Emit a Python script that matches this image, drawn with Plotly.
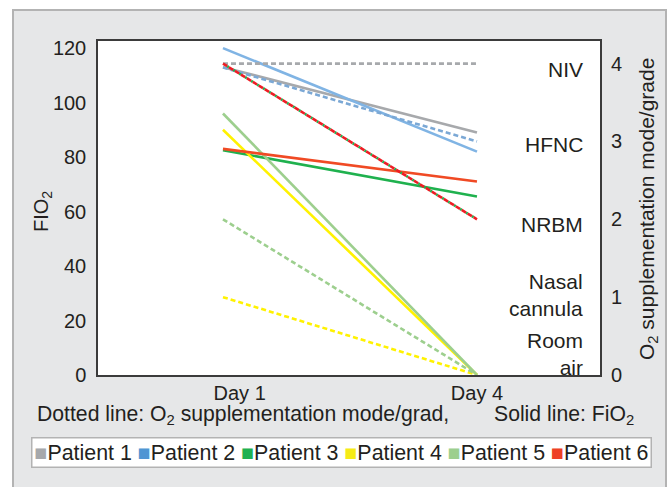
import plotly.graph_objects as go

# ---------------- data ----------------
days = [1, 4]
day_labels = ["\u00a0\u00a0\u00a0\u00a0\u00a0\u00a0Day 1", "Day 4"]
patients = ["Patient 1", "Patient 2", "Patient 3", "Patient 4", "Patient 5", "Patient 6"]

# Solid lines: FiO2 (left axis)
fio2_p1 = [113, 89]
fio2_p2 = [120, 82]
fio2_p3 = [82.5, 65.5]
fio2_p4 = [90, 0]
fio2_p5 = [96, 0]
fio2_p6 = [83, 71]

# Dotted lines: O2 supplementation mode/grade (right axis)
o2_p1 = [4, 4]
o2_p2 = [3.95, 3]
o2_p3 = [4, 2]
o2_p4 = [1, 0]
o2_p5 = [2, 0]
o2_p6 = [4, 2]

fio2_ticks = [0, 20, 40, 60, 80, 100, 120]
o2_ticks = [0, 1, 2, 3, 4]
mode_labels = ["NIV", "HFNC", "NRBM", "Nasal<br>cannula", "Room<br>air"]
mode_label_y = [0.916, 0.689, 0.452, 0.240, 0.062]

# ---------------- styles ----------------
solid_colors = ["#a7a9ac", "#80b4e4", "#1fb14e", "#fff200", "#9dcf8e", "#f04a24"]
dot_colors = ["#a7a9ac", "#7ba8d5", "#1fb14e", "#fff200", "#9dcf8e", "#ee1d24"]
legend_colors = ["#a6a8ab", "#4f96d3", "#1fb150", "#f6eb16", "#9ccf8f", "#ee4124"]
txt = "#231f20"
FONT = "Liberation Sans, Arial, sans-serif"

fio2 = [fio2_p1, fio2_p2, fio2_p3, fio2_p4, fio2_p5, fio2_p6]
o2 = [o2_p1, o2_p2, o2_p3, o2_p4, o2_p5, o2_p6]
dashes = ["5px,3px", "5px,3px", "0px,5px,2px,0px", "5px,3px", "5px,3px", "5px,2px"]

fig = go.Figure()

# dotted lines first (right axis)
for i in range(6):
    fig.add_trace(go.Scatter(
        x=days, y=o2[i], mode="lines", yaxis="y2", name=patients[i],
        line=dict(color=dot_colors[i], width=2.6, dash=dashes[i]),
        showlegend=False, hoverinfo="skip"))

# solid lines (left axis)
for i in range(6):
    fig.add_trace(go.Scatter(
        x=days, y=fio2[i], mode="lines", name=patients[i],
        line=dict(color=solid_colors[i], width=2.6),
        showlegend=False, hoverinfo="skip"))

L, R, T, B = 98, 71, 41, 112
W, H = 671, 487
pw, ph = W - L - R, H - T - B

def px_x(x):
    return (x - L) / pw

def px_y(y):
    return (H - B - y) / ph

shapes = [
    # outer gray panel with border
    dict(type="rect", xref="paper", yref="paper",
         x0=px_x(13), x1=px_x(666), y0=px_y(500), y1=px_y(10),
         fillcolor="#e6e7e8", line=dict(color="#b3b3b3", width=2), layer="below"),
    # white plot area
    dict(type="rect", xref="paper", yref="paper", x0=0, x1=1, y0=0, y1=1,
         fillcolor="white", line=dict(width=0), layer="below"),
]

annotations = []
for lab, yy in zip(mode_labels, mode_label_y):
    annotations.append(dict(
        text=lab, xref="paper", yref="paper", x=px_x(585), y=yy,
        xanchor="right", yanchor="middle", align="right", showarrow=False,
        font=dict(family=FONT, size=21, color=txt)))

# axis titles
annotations.append(dict(
    text="FIO<sub>2</sub>", xref="paper", yref="paper", x=px_x(42), y=px_y(212),
    xanchor="center", yanchor="middle", textangle=-90, showarrow=False,
    font=dict(family=FONT, size=20, color=txt)))
annotations.append(dict(
    text="O<sub>2</sub> supplementation mode/grade", xref="paper", yref="paper",
    x=px_x(648), y=px_y(209), xanchor="center", yanchor="middle",
    textangle=-90, showarrow=False,
    font=dict(family=FONT, size=21, color=txt)))

annotations.append(dict(
    text="Dotted line: O<sub>2</sub> supplementation mode/grad,",
    xref="paper", yref="paper", x=px_x(35), y=px_y(415),
    xanchor="left", yanchor="middle", showarrow=False,
    font=dict(family=FONT, size=21.2, color=txt)))
annotations.append(dict(
    text="Solid line: FiO<sub>2</sub>",
    xref="paper", yref="paper", x=px_x(492), y=px_y(415),
    xanchor="left", yanchor="middle", showarrow=False,
    font=dict(family=FONT, size=21.2, color=txt)))

legend_text = " ".join(
    f"<span style='color:{c}'>\u25a0</span>{p}" for c, p in zip(legend_colors, patients))
annotations.append(dict(
    text=legend_text, xref="paper", yref="paper", x=px_x(341.5), y=px_y(452.5),
    xanchor="center", yanchor="middle", showarrow=False,
    bgcolor="white", bordercolor="#b3b3b3", borderwidth=1.5, borderpad=2,
    font=dict(family=FONT, size=21.4, color=txt)))

fig.update_layout(
    width=W, height=H,
    margin=dict(l=L, r=R, t=T, b=B, pad=0),
    paper_bgcolor="white", plot_bgcolor="white",
    font=dict(family=FONT, size=20, color=txt),
    showlegend=False,
    shapes=shapes, annotations=annotations,
    xaxis=dict(
        range=[-0.476, 5.453], tickvals=days, ticktext=day_labels,
        showgrid=False, zeroline=False, showline=True, mirror=True,
        linecolor="#3b3b3b", linewidth=1.5, ticks="", ticklabelstandoff=-1,
        tickfont=dict(family=FONT, size=20, color=txt)),
    yaxis=dict(
        range=[0, 122.6], tickvals=fio2_ticks,
        showgrid=False, zeroline=False, showline=True, mirror=True,
        linecolor="#3b3b3b", linewidth=1.5, ticks="", ticklabelstandoff=6,
        tickfont=dict(family=FONT, size=20, color=txt)),
    yaxis2=dict(
        range=[0, 4.29], tickvals=o2_ticks, overlaying="y", side="right",
        showgrid=False, zeroline=False, showline=False, ticks="",
        ticklabelstandoff=10,
        tickfont=dict(family=FONT, size=20, color=txt)),
)

fig.write_html("out.html", config={"displayModeBar": False},
               post_script="document.body.style.margin='0px';")
